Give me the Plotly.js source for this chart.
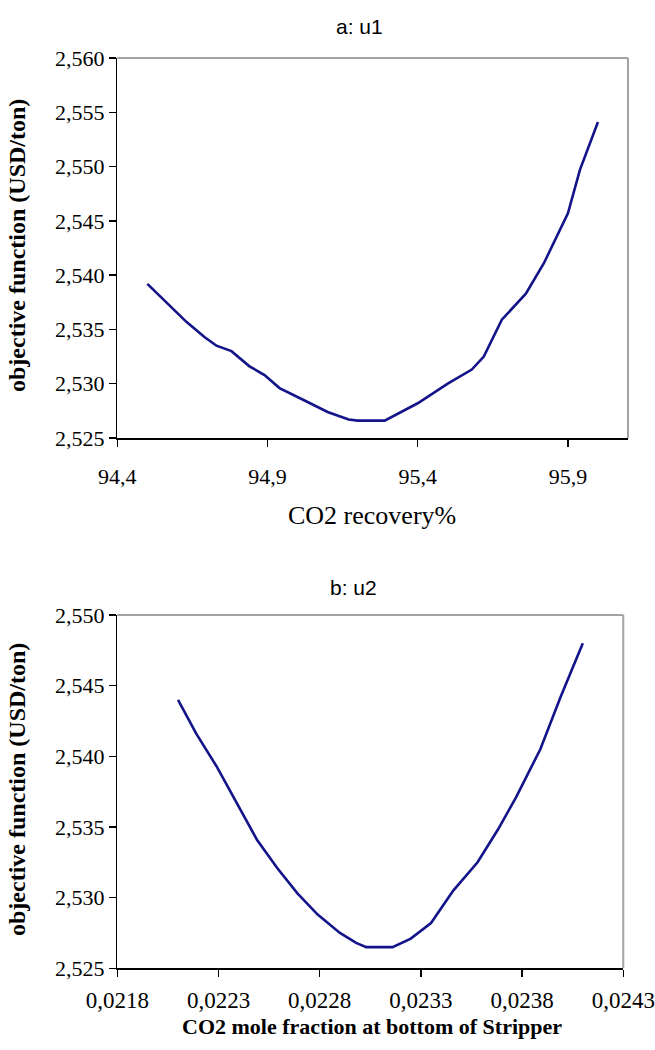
<!DOCTYPE html>
<html><head><meta charset="utf-8">
<script src="https://cdn.plot.ly/plotly-3.0.1.min.js"></script>
<style>html,body{margin:0;padding:0;background:#fff}#chart{width:655px;height:1050px}</style>
</head><body><div id="chart"></div>
<script>
// Panel a: u1
const recoveryPct = [94.50, 94.63, 94.69, 94.73, 94.78, 94.84, 94.89, 94.94, 95.02, 95.10, 95.17, 95.20, 95.29, 95.40, 95.50, 95.58, 95.62, 95.68, 95.76, 95.82, 95.90, 95.94, 96.00];
const objectiveA  = [2.5392, 2.5357, 2.5343, 2.5335, 2.5330, 2.5316, 2.5308, 2.5296, 2.5285, 2.5274, 2.5267, 2.5266, 2.5266, 2.5282, 2.5300, 2.5313, 2.5325, 2.5359, 2.5383, 2.5411, 2.5457, 2.5497, 2.5541];
// Panel b: u2
const moleFraction = [0.02210, 0.02219, 0.02229, 0.02239, 0.02249, 0.02259, 0.02269, 0.02279, 0.02290, 0.02298, 0.02303, 0.02316, 0.02325, 0.02335, 0.02346, 0.02358, 0.02368, 0.02377, 0.02389, 0.02399, 0.02410];
const objectiveB   = [2.5440, 2.5416, 2.5393, 2.5367, 2.5341, 2.5321, 2.5303, 2.5288, 2.5275, 2.5268, 2.5265, 2.5265, 2.5271, 2.5282, 2.5305, 2.5325, 2.5348, 2.5371, 2.5405, 2.5442, 2.5480];

const tickRecovery = [94.4, 94.9, 95.4, 95.9];
const tickMole = [0.0218, 0.0223, 0.0228, 0.0233, 0.0238, 0.0243];
const tickObjA = [2.525, 2.530, 2.535, 2.540, 2.545, 2.550, 2.555, 2.560];
const tickObjB = [2.525, 2.530, 2.535, 2.540, 2.545, 2.550];

const titleA = "a: u1";
const titleB = "b: u2";
const xTitleA = "CO2 recovery%";
const xTitleB = "CO2 mole fraction at bottom of Stripper";
const yTitle = "objective function (USD/ton)";

const W = 655, H = 1050;
const px = v => v / W;
const py = v => 1 - v / H;

const lineStyle = {color: '#13138a', width: 2.6};
const serif = 'Liberation Serif, Times New Roman, serif';
const sans = 'Liberation Sans, Arial, sans-serif';

function xAxis(domain, range, vals, fmt, anchor, standoff, fsize) {
  return {domain, range, anchor, tickmode: 'array', tickvals: vals, tickformat: fmt,
    ticks: 'outside', ticklen: 7, tickwidth: 1.5, tickcolor: '#000',
    showline: true, linecolor: '#000', linewidth: 1.5, showgrid: false, zeroline: false,
    tickfont: {family: serif, size: fsize, color: '#000'}, ticklabelstandoff: standoff, fixedrange: true};
}
function yAxis(domain, range, vals, anchor) {
  return {domain, range, anchor, tickmode: 'array', tickvals: vals, tickformat: '.3f',
    ticks: 'outside', ticklen: 7, tickwidth: 1.5, tickcolor: '#000',
    showline: true, linecolor: '#000', linewidth: 1.5, showgrid: false, zeroline: false,
    tickfont: {family: serif, size: 22, color: '#000'}, fixedrange: true};
}

const data = [
  {x: recoveryPct, y: objectiveA, type: 'scatter', mode: 'lines', line: lineStyle, xaxis: 'x', yaxis: 'y', hoverinfo: 'skip'},
  {x: moleFraction, y: objectiveB, type: 'scatter', mode: 'lines', line: lineStyle, xaxis: 'x2', yaxis: 'y2', hoverinfo: 'skip'}
];

function border(xr, yr) {
  const st = {color: '#a3a3a3', width: 2};
  return [
    {type: 'line', xref: xr + ' domain', yref: yr + ' domain', x0: 0, x1: 1, y0: 1, y1: 1, line: st},
    {type: 'line', xref: xr + ' domain', yref: yr + ' domain', x0: 1, x1: 1, y0: 0, y1: 1, line: st}
  ];
}

const layout = {
  width: W, height: H,
  margin: {l: 0, r: 0, t: 0, b: 0},
  paper_bgcolor: '#fff', plot_bgcolor: '#fff',
  showlegend: false,
  separators: ', ',
  xaxis: xAxis([px(117.3), px(628)], [94.4, 96.1], tickRecovery, '.1f', 'y', 11, 22),
  yaxis: yAxis([py(438), py(58)], [2.525, 2.560], tickObjA, 'x'),
  xaxis2: xAxis([px(117.3), px(623.3)], [0.0218, 0.0243], tickMole, '.4f', 'y2', 4, 23),
  yaxis2: yAxis([py(968.3), py(615)], [2.525, 2.550], tickObjB, 'x2'),
  shapes: [...border('x', 'y'), ...border('x2', 'y2')],
  annotations: [
    {text: titleA, x: px(359), y: py(27), xref: 'paper', yref: 'paper', showarrow: false, xanchor: 'center', yanchor: 'middle', font: {family: sans, size: 21, color: '#000'}},
    {text: titleB, x: px(354), y: py(587), xref: 'paper', yref: 'paper', showarrow: false, xanchor: 'center', yanchor: 'middle', font: {family: sans, size: 21, color: '#000'}},
    {text: xTitleA, x: px(372), y: py(515), xref: 'paper', yref: 'paper', showarrow: false, xanchor: 'center', yanchor: 'middle', font: {family: serif, size: 26, color: '#000'}},
    {text: xTitleB, x: px(372), y: py(1026), xref: 'paper', yref: 'paper', showarrow: false, xanchor: 'center', yanchor: 'middle', font: {family: serif, size: 22, color: '#000', weight: 'bold'}},
    {text: yTitle, x: px(17), y: py(246), xref: 'paper', yref: 'paper', showarrow: false, xanchor: 'center', yanchor: 'middle', textangle: -90, font: {family: serif, size: 24, color: '#000', weight: 'bold'}},
    {text: yTitle, x: px(17), y: py(790), xref: 'paper', yref: 'paper', showarrow: false, xanchor: 'center', yanchor: 'middle', textangle: -90, font: {family: serif, size: 24, color: '#000', weight: 'bold'}}
  ]
};

Plotly.newPlot('chart', data, layout, {staticPlot: true, displayModeBar: false});
</script>
</body></html>
